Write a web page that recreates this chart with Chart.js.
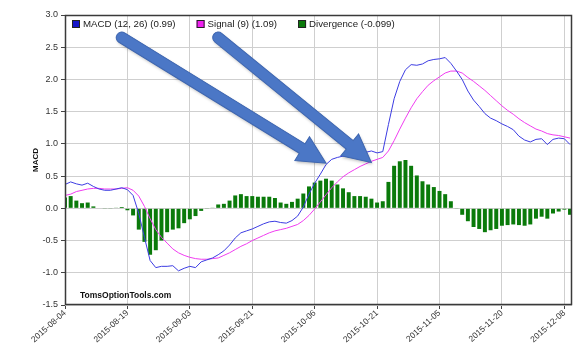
<!DOCTYPE html>
<html><head><meta charset="utf-8">
<script src="https://cdn.jsdelivr.net/npm/chart.js@4.4.0/dist/chart.umd.min.js"></script>
<style>html,body{margin:0;padding:0;background:#fff}#c{display:block}</style>
</head><body>
<canvas id="c" width="585" height="355"></canvas>
<script>
const dates = ["2015-08-04","2015-08-05","2015-08-06","2015-08-07","2015-08-10","2015-08-11","2015-08-12","2015-08-13","2015-08-14","2015-08-17","2015-08-18","2015-08-19","2015-08-20","2015-08-21","2015-08-24","2015-08-25","2015-08-26","2015-08-27","2015-08-28","2015-08-31",
"2015-09-01","2015-09-02","2015-09-03","2015-09-04","2015-09-08","2015-09-09","2015-09-10","2015-09-11","2015-09-14","2015-09-15","2015-09-16","2015-09-17","2015-09-18","2015-09-21","2015-09-22","2015-09-23","2015-09-24","2015-09-25","2015-09-28","2015-09-29","2015-09-30",
"2015-10-01","2015-10-02","2015-10-05","2015-10-06","2015-10-07","2015-10-08","2015-10-09","2015-10-12","2015-10-13","2015-10-14","2015-10-15","2015-10-16","2015-10-19","2015-10-20","2015-10-21","2015-10-22","2015-10-23","2015-10-26","2015-10-27","2015-10-28","2015-10-29","2015-10-30",
"2015-11-02","2015-11-03","2015-11-04","2015-11-05","2015-11-06","2015-11-09","2015-11-10","2015-11-11","2015-11-12","2015-11-13","2015-11-16","2015-11-17","2015-11-18","2015-11-19","2015-11-20","2015-11-23","2015-11-24","2015-11-25","2015-11-27","2015-11-30",
"2015-12-01","2015-12-02","2015-12-03","2015-12-04","2015-12-07","2015-12-08","2015-12-09"];

const tickLabels = ["2015-08-04","2015-08-19","2015-09-03","2015-09-21","2015-10-06","2015-10-21","2015-11-05","2015-11-20","2015-12-08"];

const seriesNames = ["MACD (12, 26) (0.99)", "Signal (9) (1.09)", "Divergence (-0.099)"];

const macd = [0.37,0.41,0.38,0.36,0.39,0.34,0.30,0.28,0.28,0.30,0.32,0.29,0.20,-0.08,-0.45,-0.81,-0.92,-0.90,-0.90,-0.89,
-0.97,-0.93,-0.90,-0.92,-0.83,-0.80,-0.77,-0.72,-0.66,-0.57,-0.46,-0.38,-0.35,-0.32,-0.28,-0.24,-0.21,-0.20,-0.22,-0.23,
-0.19,-0.12,0.02,0.22,0.39,0.53,0.68,0.76,0.79,0.81,0.80,0.80,0.84,0.87,0.89,0.86,0.88,1.30,1.70,1.97,
2.15,2.23,2.22,2.24,2.29,2.31,2.32,2.34,2.25,2.13,2.00,1.82,1.68,1.58,1.47,1.40,1.36,1.31,1.27,1.22,
1.12,1.06,1.03,1.07,1.08,0.99,1.07,1.09,1.08,0.99];

const signal = [0.20,0.22,0.26,0.28,0.30,0.31,0.31,0.30,0.30,0.30,0.31,0.32,0.28,0.19,0.03,-0.16,-0.33,-0.45,-0.54,-0.63,
-0.69,-0.73,-0.76,-0.78,-0.79,-0.79,-0.78,-0.77,-0.73,-0.69,-0.64,-0.59,-0.55,-0.50,-0.46,-0.42,-0.38,-0.35,-0.33,-0.31,
-0.28,-0.25,-0.19,-0.11,-0.01,0.10,0.21,0.32,0.41,0.49,0.55,0.60,0.65,0.69,0.73,0.76,0.79,0.89,1.05,1.23,
1.40,1.56,1.70,1.81,1.91,1.98,2.04,2.10,2.13,2.13,2.10,2.03,1.97,1.90,1.83,1.75,1.67,1.59,1.52,1.46,
1.39,1.33,1.28,1.23,1.20,1.16,1.14,1.13,1.11,1.09];

const divergence = [0.17,0.19,0.12,0.08,0.09,0.03,0.00,-0.01,-0.01,0.01,0.02,-0.03,-0.11,-0.33,-0.52,-0.72,-0.65,-0.50,-0.37,-0.33,
-0.31,-0.23,-0.17,-0.12,-0.04,-0.01,0.01,0.06,0.07,0.12,0.20,0.22,0.19,0.19,0.18,0.18,0.18,0.16,0.09,0.07,
0.10,0.15,0.23,0.34,0.40,0.43,0.46,0.43,0.37,0.31,0.25,0.19,0.19,0.18,0.15,0.09,0.11,0.41,0.66,0.73,
0.75,0.66,0.51,0.42,0.37,0.33,0.27,0.22,0.11,-0.01,-0.10,-0.20,-0.29,-0.32,-0.37,-0.34,-0.32,-0.27,-0.26,-0.25,
-0.26,-0.27,-0.25,-0.16,-0.13,-0.16,-0.08,-0.05,-0.02,-0.10];

// annotation arrows: [date, value] of tail and tip
const arrowsFrom = [["2015-08-18", 2.65], ["2015-09-11", 2.65]];
const arrowsTo   = [["2015-10-08", 0.70], ["2015-10-20", 0.71]];

const FONT = "'Liberation Sans', Arial, sans-serif";
const ticksIdx = tickLabels.map(d => dates.indexOf(d));
const pts = arr => arr.map((v, i) => ({x: i, y: v}));

const framePlugin = {
  id: 'frame',
  afterDatasetsDraw(chart) {
    const {ctx, chartArea: a} = chart;
    ctx.save();
    ctx.strokeStyle = '#3a3a3a';
    ctx.lineWidth = 1.5;
    ctx.strokeRect(a.left + 0.5, a.top + 0.5, a.right - a.left - 1, a.bottom - a.top - 1);
    ctx.restore();
  }
};

const legendPlugin = {
  id: 'inLegend',
  afterDraw(chart) {
    const {ctx, chartArea: a} = chart;
    ctx.save();
    ctx.font = "9.7px " + FONT;
    ctx.textBaseline = 'middle';
    let x = a.left + 7;
    const y = a.top + 9;
    chart.data.datasets.forEach(ds => {
      ctx.fillStyle = ds.legendColor;
      ctx.fillRect(x, y - 4, 8, 8);
      ctx.strokeStyle = '#222';
      ctx.lineWidth = 1;
      ctx.strokeRect(x + 0.5, y - 3.5, 7, 7);
      ctx.fillStyle = '#222';
      ctx.fillText(ds.label, x + 11, y + 0.5);
      x += 11 + ctx.measureText(ds.label).width + 21;
    });
    // watermark
    ctx.font = "bold 8.5px " + FONT;
    ctx.textBaseline = 'alphabetic';
    ctx.fillStyle = '#111';
    ctx.fillText('TomsOptionTools.com', a.left + 15, a.bottom - 7);
    ctx.restore();
  }
};

const arrowPlugin = {
  id: 'arrows',
  afterDraw(chart) {
    const {ctx} = chart;
    const xs = chart.scales.x, ys = chart.scales.y;
    ctx.save();
    arrowsFrom.forEach((f, k) => {
      const t = arrowsTo[k];
      const x1 = xs.getPixelForValue(dates.indexOf(f[0])), y1 = ys.getPixelForValue(f[1]);
      const x2 = xs.getPixelForValue(dates.indexOf(t[0])), y2 = ys.getPixelForValue(t[1]);
      const L = Math.hypot(x2 - x1, y2 - y1);
      const hw = 5.5, Hw = 14, Hl = 28;
      ctx.save();
      ctx.translate(x1, y1);
      ctx.rotate(Math.atan2(y2 - y1, x2 - x1));
      ctx.beginPath();
      ctx.moveTo(0, -hw);
      ctx.lineTo(L - Hl, -hw);
      ctx.lineTo(L - Hl, -Hw);
      ctx.lineTo(L, 0);
      ctx.lineTo(L - Hl, Hw);
      ctx.lineTo(L - Hl, hw);
      ctx.lineTo(0, hw);
      ctx.arc(0, 0, hw, Math.PI / 2, Math.PI * 1.5, false);
      ctx.closePath();
      ctx.shadowColor = 'rgba(0,0,0,0.25)';
      ctx.shadowBlur = 3;
      ctx.shadowOffsetX = 1;
      ctx.shadowOffsetY = 2;
      ctx.fillStyle = '#4b77c6';
      ctx.fill();
      ctx.shadowColor = 'transparent';
      ctx.strokeStyle = '#3e66b0';
      ctx.lineWidth = 1;
      ctx.stroke();
      ctx.restore();
    });
    ctx.restore();
  }
};

new Chart(document.getElementById('c').getContext('2d'), {
  type: 'bar',
  data: {
    datasets: [
      {type: 'line', label: seriesNames[0], data: pts(macd), borderColor: '#3c3ce2', legendColor: '#1414c8',
       borderWidth: 1, pointRadius: 0, tension: 0},
      {type: 'line', label: seriesNames[1], data: pts(signal), borderColor: '#f03cf0', legendColor: '#f01ef0',
       borderWidth: 1, pointRadius: 0, tension: 0},
      {type: 'bar', label: seriesNames[2], data: pts(divergence), backgroundColor: '#0a7a0a', legendColor: '#0a7a0a',
       barPercentage: 0.7, categoryPercentage: 1}
    ]
  },
  options: {
    responsive: false,
    animation: false,
    layout: {padding: {left: 31, top: 15, right: 13, bottom: 0}},
    plugins: {legend: {display: false}, tooltip: {enabled: false}},
    scales: {
      x: {
        type: 'linear', min: 0, max: 89.35, offset: false,
        grid: {offset: false, color: '#cfcfcf', tickColor: '#444', tickLength: 4},
        border: {display: false},
        afterBuildTicks: s => { s.ticks = ticksIdx.map(v => ({value: v})); },
        ticks: {autoSkip: false, minRotation: 42, maxRotation: 42, padding: -1,
                font: {size: 8.5, family: FONT}, color: '#333', callback: v => dates[v]},
        afterFit: s => { s.height = 50; }
      },
      y: {
        min: -1.5, max: 3,
        grid: {color: '#cfcfcf', tickColor: '#444', tickLength: 4},
        border: {display: false},
        ticks: {stepSize: 0.5, padding: 3, font: {size: 9, family: FONT}, color: '#333',
                callback: v => v.toFixed(1)},
        title: {display: true, text: 'MACD', font: {size: 8, weight: 'bold', family: FONT}, color: '#111',
                padding: {top: 0, bottom: 0}},
        afterFit: s => { s.width = 34; }
      }
    }
  },
  plugins: [framePlugin, legendPlugin, arrowPlugin]
});
</script>
</body></html>
